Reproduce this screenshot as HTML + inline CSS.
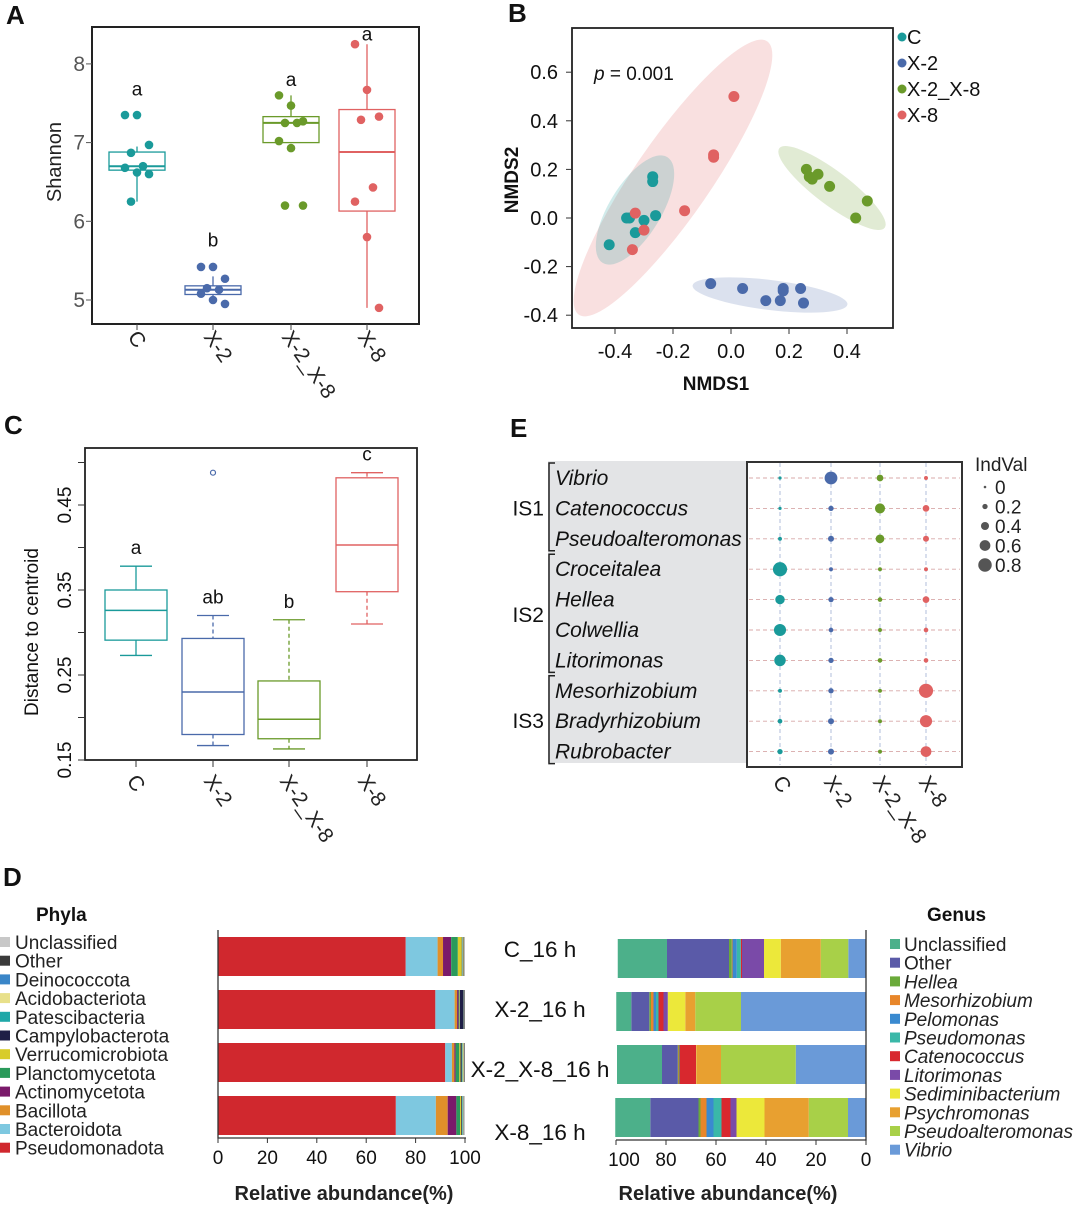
<!DOCTYPE html>
<html><head><meta charset="utf-8">
<style>
html,body{margin:0;padding:0;background:#fff;}
svg{display:block;font-family:"Liberation Sans",Arial,sans-serif;}
</style></head>
<body>
<svg id="fig" width="1080" height="1206" viewBox="0 0 1080 1206" xmlns="http://www.w3.org/2000/svg">
<g font-weight="bold" font-size="26" fill="#111">
<text x="6" y="24">A</text>
<text x="508" y="22">B</text>
<text x="4" y="434">C</text>
<text x="510" y="437">E</text>
<text x="3" y="886">D</text>
</g>
<g id="pA"></g>
<g id="pB"></g>
<g id="pC"></g>
<g id="pE"></g>
<g id="pD"></g>
</svg>
<script>
// ---------- shared data ----------
const groups = ["C","X-2","X-2_X-8","X-8"];
const groupColors = ["#1a9a9a","#4a6aaa","#6a9a2a","#e06262"];

// Panel A (Shannon)
const aQ1 = [6.65,5.07,7.0,6.13];
const aMed = [6.7,5.13,7.25,6.88];
const aQ3 = [6.88,5.18,7.33,7.42];
const aLo = [6.25,4.98,7.0,4.9];
const aHi = [6.95,5.3,7.6,8.25];
const aPoints = [
 [7.35,7.35,6.97,6.87,6.7,6.68,6.62,6.6,6.25],
 [5.42,5.42,5.27,5.15,5.13,5.08,5.0,4.95],
 [7.6,7.47,7.27,7.25,7.25,7.02,6.93,6.2,6.2],
 [8.25,7.67,7.33,7.29,6.43,6.25,5.8,4.9]];
const aLetters = ["a","b","a","a"];
const aLetterVals = [7.6,5.68,7.72,8.3];
const aTicks = [5,6,7,8];

// Panel B (NMDS)
const bX = [
 [-0.27,-0.27,-0.35,-0.36,-0.3,-0.26,-0.33,-0.42],
 [-0.07,0.04,0.12,0.17,0.18,0.18,0.24,0.25],
 [0.26,0.27,0.28,0.3,0.34,0.47,0.43],
 [0.01,-0.06,-0.06,-0.16,-0.33,-0.3,-0.34]];
const bY = [
 [0.17,0.15,0.0,0.0,-0.01,0.01,-0.06,-0.11],
 [-0.27,-0.29,-0.34,-0.34,-0.3,-0.29,-0.29,-0.35],
 [0.2,0.17,0.16,0.18,0.13,0.07,0.0],
 [0.5,0.26,0.25,0.03,0.02,-0.05,-0.13]];
const bXTicks = [-0.4,-0.2,0.0,0.2,0.4];
const bYTicks = [-0.4,-0.2,0.0,0.2,0.4,0.6];

// Panel C (distance to centroid)
const cQ1 = [0.291,0.18,0.175,0.348];
const cMed = [0.326,0.23,0.198,0.403];
const cQ3 = [0.35,0.293,0.243,0.482];
const cLo = [0.273,0.167,0.163,0.31];
const cHi = [0.378,0.32,0.315,0.488];
const cOutliers = [null,0.488,null,null];
const cLetters = ["a","ab","b","c"];
const cTicks = [0.15,0.2,0.25,0.3,0.35,0.4,0.45,0.5];
const cTickLabels = ["0.15","","0.25","","0.35","","0.45",""];

// Panel E (IndVal)
const eTaxa = ["Vibrio","Catenococcus","Pseudoalteromonas","Croceitalea","Hellea","Colwellia","Litorimonas","Mesorhizobium","Bradyrhizobium","Rubrobacter"];
const eVals = [
 [0.05,0.75,0.3,0.1],[0.05,0.2,0.55,0.3],[0.1,0.25,0.45,0.25],
 [0.85,0.1,0.1,0.1],[0.5,0.2,0.15,0.3],[0.7,0.15,0.1,0.15],[0.65,0.2,0.15,0.15],
 [0.1,0.2,0.1,0.85],[0.15,0.25,0.1,0.7],[0.2,0.25,0.1,0.6]];
const eLegendVals = [0,0.2,0.4,0.6,0.8];

// Panel D
const samples = ["C_16 h","X-2_16 h","X-2_X-8_16 h","X-8_16 h"];
const phyla = ["Unclassified","Other","Deinococcota","Acidobacteriota","Patescibacteria","Campylobacterota","Verrucomicrobiota","Planctomycetota","Actinomycetota","Bacillota","Bacteroidota","Pseudomonadota"];
const phylaColors = ["#c8c8c8","#3a3a3a","#3a86c8","#e8e08a","#1fa8a8","#1e1e46","#d8cc2a","#2a9a5a","#7a1a6a","#e0902a","#7ec8e0","#d0282e"];
const phylaC = [0.3,0.3,0.0,0.3,0.2,0.2,1.6,2.7,3.3,2.2,12.9,76];
const phylaX2 = [0.2,0.2,0.0,0.1,0.1,1.5,0.2,0.3,0.6,1.0,7.8,88];
const phylaX2X8 = [0.2,0.3,0.0,0.5,0.3,0.5,0.5,1.5,0.5,1.0,2.7,92];
const phylaX8 = [0.5,0.2,0.0,0.2,0.3,0.3,0.5,1.5,3.5,4.8,16.2,72];
const genera = ["Unclassified","Other","Hellea","Mesorhizobium","Pelomonas","Pseudomonas","Catenococcus","Litorimonas","Sediminibacterium","Psychromonas","Pseudoalteromonas","Vibrio"];
const genusColors = ["#4cb08a","#5a5aa8","#6aaa3a","#e8862a","#3a8ad0","#3ab8a8","#d8282e","#7a4aa8","#ece83a","#e8a030","#a8d048","#6a9ad8"];
const genusC = [19.7,24.8,1.1,0.3,1.7,1.6,0.5,8.8,6.7,16,11,7.1];
const genusX2 = [6,7.2,0.7,1,1,1,2,1.7,7,4,18.3,50];
const genusX2X8 = [18,6.3,0.3,0.2,0,0.2,6.7,0,0.3,9.6,29.9,28.1];
const genusX8 = [14,19.3,0.8,2.4,2.8,3.2,3.6,2.4,11.2,17.7,15.7,7.2];
const dTicks = [0,20,40,60,80,100];

// ---------- helpers ----------
const NS="http://www.w3.org/2000/svg";
function mk(parent,tag,attrs,txt){const e=document.createElementNS(NS,tag);for(const k in attrs)e.setAttribute(k,attrs[k]);if(txt!==undefined)e.textContent=txt;parent.appendChild(e);return e;}
const italicSet = new Set(["Hellea","Mesorhizobium","Pelomonas","Pseudomonas","Catenococcus","Litorimonas","Sediminibacterium","Psychromonas","Pseudoalteromonas","Vibrio"]);

// ---------- Panel A ----------
(function(){
 const g=document.getElementById('pA');
 const xs=[137,213,291,367];
 const y=v=>300-(v-5)*78.7;
 let e=mk(g,'rect',{x:92,y:27,width:327,height:297,fill:'none',stroke:'#222','stroke-width':2});
 
 aTicks.forEach(t=>{
  e=mk(g,'line',{x1:86,x2:92,y1:y(t),y2:y(t),stroke:'#555'});
  
  e=mk(g,'text',{x:85,y:y(t)+7,'text-anchor':'end','font-size':21,fill:'#555'},String(t));
  
 });
 e=mk(g,'text',{x:0,y:0,transform:'translate(61,162) rotate(-90)','text-anchor':'middle','font-size':20,fill:'#222'},'Shannon');
 
 groups.forEach((gr,i)=>{
  const c=groupColors[i],x=xs[i],w=56;
  e=mk(g,'line',{x1:x,x2:x,y1:y(aHi[i]),y2:y(aLo[i]),stroke:c,'stroke-width':1.3});
  
  e=mk(g,'rect',{x:x-w/2,y:y(aQ3[i]),width:w,height:y(aQ1[i])-y(aQ3[i]),fill:'#fff',stroke:c,'stroke-width':1.3});
  
  e=mk(g,'line',{x1:x-w/2,x2:x+w/2,y1:y(aMed[i]),y2:y(aMed[i]),stroke:c,'stroke-width':2});
  
  aPoints[i].forEach((v,j)=>{
   const off=((j*7)%5-2)*6;
   e=mk(g,'circle',{cx:x+off,cy:y(v),r:4.3,fill:c});
   
  });
  e=mk(g,'text',{x:x,y:y(aLetterVals[i]),'text-anchor':'middle','font-size':19,fill:'#111'},aLetters[i]);
  
  e=mk(g,'line',{x1:x,x2:x,y1:324,y2:330,stroke:'#444'});
  
  e=mk(g,'text',{x:0,y:0,transform:`translate(${x-10},337) rotate(55)`,'font-size':21,fill:'#222'},gr);
  
 });
})();

// ---------- Panel B ----------
(function(){
 const g=document.getElementById('pB');
 const x=v=>731+290*v, y=v=>218-243*v;
 const ell=[[673,178,166,38,-55.4,3],[635,210,62,26,-58.6,0],[832,188,66,17,37,2],[770,295,78,15,7,1]];
 ell.forEach(a=>{
  const e=mk(g,'ellipse',{cx:a[0],cy:a[1],rx:a[2],ry:a[3],transform:`rotate(${a[4]} ${a[0]} ${a[1]})`,fill:groupColors[a[5]],'fill-opacity':0.2});
  
 });
 let e=mk(g,'rect',{x:572,y:28,width:321,height:300,fill:'none',stroke:'#222','stroke-width':1.8});
 
 bXTicks.forEach(t=>{
  e=mk(g,'line',{x1:x(t),x2:x(t),y1:328,y2:334,stroke:'#333'});
  
  e=mk(g,'text',{x:x(t),y:358,'text-anchor':'middle','font-size':20,fill:'#111'},t.toFixed(1));
  
 });
 bYTicks.forEach(t=>{
  e=mk(g,'line',{x1:566,x2:572,y1:y(t),y2:y(t),stroke:'#333'});
  
  e=mk(g,'text',{x:558,y:y(t)+7,'text-anchor':'end','font-size':20,fill:'#111'},t.toFixed(1));
  
 });
 e=mk(g,'text',{x:716,y:390,'text-anchor':'middle','font-size':19,'font-weight':'bold',fill:'#111'},'NMDS1');
 
 e=mk(g,'text',{x:0,y:0,transform:'translate(518,180) rotate(-90)','text-anchor':'middle','font-size':19,'font-weight':'bold',fill:'#111'},'NMDS2');
 
 e=mk(g,'text',{x:594,y:80,'font-size':19,fill:'#111'});
 
 mk(e,'tspan',{'font-style':'italic'},'p');mk(e,'tspan',{},' = 0.001');
 groups.forEach((gr,i)=>{
  bX[i].forEach((v,j)=>{
   e=mk(g,'circle',{cx:x(v),cy:y(bY[i][j]),r:5.5,fill:groupColors[i]});
   
  });
  const ly=37+i*26;
  e=mk(g,'circle',{cx:902,cy:ly,r:4.5,fill:groupColors[i]});
  
  e=mk(g,'text',{x:907,y:ly+7,'font-size':20,fill:'#111'},gr);
  
 });
})();

// ---------- Panel C ----------
(function(){
 const g=document.getElementById('pC');
 const xs=[136,213,289,367];
 const y=v=>760-(v-0.15)*850;
 let e=mk(g,'rect',{x:85,y:448,width:332,height:312,fill:'none',stroke:'#222','stroke-width':1.8});
 
 cTicks.forEach((t,k)=>{
  e=mk(g,'line',{x1:78,x2:85,y1:y(t),y2:y(t),stroke:'#333'});
  
  if(cTickLabels[k]){
   e=mk(g,'text',{x:0,y:0,transform:`translate(71,${y(t)}) rotate(-90)`,'text-anchor':'middle','font-size':19,fill:'#111'},cTickLabels[k]);
   
  }
 });
 e=mk(g,'text',{x:0,y:0,transform:'translate(38,632) rotate(-90)','text-anchor':'middle','font-size':19,fill:'#111'},'Distance to centroid');
 
 groups.forEach((gr,i)=>{
  const c=groupColors[i],x=xs[i],w=62,dash=i===0?'none':'4,3';
  e=mk(g,'line',{x1:x,x2:x,y1:y(cHi[i]),y2:y(cQ3[i]),stroke:c,'stroke-width':1.3,'stroke-dasharray':dash});
  
  e=mk(g,'line',{x1:x,x2:x,y1:y(cQ1[i]),y2:y(cLo[i]),stroke:c,'stroke-width':1.3,'stroke-dasharray':dash});
  
  [cHi[i],cLo[i]].forEach(v=>{
   e=mk(g,'line',{x1:x-16,x2:x+16,y1:y(v),y2:y(v),stroke:c,'stroke-width':1.3});
   
  });
  e=mk(g,'rect',{x:x-w/2,y:y(cQ3[i]),width:w,height:y(cQ1[i])-y(cQ3[i]),fill:'none',stroke:c,'stroke-width':1.3});
  
  e=mk(g,'line',{x1:x-w/2,x2:x+w/2,y1:y(cMed[i]),y2:y(cMed[i]),stroke:c,'stroke-width':1.5});
  
  if(cOutliers[i]!==null){
   e=mk(g,'circle',{cx:x,cy:y(cOutliers[i]),r:2.5,fill:'none',stroke:c,'stroke-width':1.2});
   
  }
  e=mk(g,'text',{x:x,y:y(Math.max(cHi[i],cQ3[i]))-12,'text-anchor':'middle','font-size':19,fill:'#111'},cLetters[i]);
  
  e=mk(g,'line',{x1:x,x2:x,y1:760,y2:767,stroke:'#333'});
  
  e=mk(g,'text',{x:0,y:0,transform:`translate(${x-10},781) rotate(55)`,'font-size':21,fill:'#222'},gr);
  
 });
})();

// ---------- Panel E ----------
(function(){
 const g=document.getElementById('pE');
 const cx=[780,831,880,926];
 const rowY=i=>478+i*30.4;
 const r=v=>1.3+6.8*v;
 let e=mk(g,'rect',{x:548,y:461,width:199,height:302,fill:'#e3e4e6'});
 
 eTaxa.forEach((t,i)=>{
  e=mk(g,'line',{x1:749,x2:960,y1:rowY(i),y2:rowY(i),stroke:'#d8a8a8','stroke-dasharray':'4,3','stroke-width':0.9});
  
  e=mk(g,'text',{x:555,y:rowY(i)+7,'font-size':21,'font-style':'italic',fill:'#111'},t);
  
 });
 cx.forEach((x,j)=>{
  e=mk(g,'line',{x1:x,x2:x,y1:463,y2:765,stroke:'#a8b8d8','stroke-dasharray':'4,3','stroke-width':0.9});
  
  e=mk(g,'text',{x:0,y:0,transform:`translate(${x-8},782) rotate(55)`,'font-size':21,fill:'#222'},groups[j]);
  
 });
 e=mk(g,'rect',{x:747,y:462,width:215,height:305,fill:'none',stroke:'#333','stroke-width':2});
 
 eVals.forEach((row,i)=>row.forEach((v,j)=>{
  e=mk(g,'circle',{cx:cx[j],cy:rowY(i),r:r(v),fill:groupColors[j]});
  
 }));
 [["IS1",0,2],["IS2",3,6],["IS3",7,9]].forEach(b=>{
  const y1=rowY(b[1])-15,y2=rowY(b[2])+12;
  e=mk(g,'path',{d:`M555 ${y1} H549 V${y2} H555`,fill:'none',stroke:'#222','stroke-width':1.5});
  
  e=mk(g,'text',{x:544,y:(rowY(b[1])+rowY(b[2]))/2+7,'text-anchor':'end','font-size':21,fill:'#111'},b[0]);
  
 });
 e=mk(g,'text',{x:975,y:471,'font-size':19,fill:'#222'},'IndVal');
 
 eLegendVals.forEach((v,k)=>{
  const ly=487+k*19.5;
  e=mk(g,'circle',{cx:985,cy:ly,r:r(v),fill:'#555'});
  
  e=mk(g,'text',{x:995,y:ly+7,'font-size':19,fill:'#222'},String(v));
  
 });
})();

// ---------- Panel D ----------
(function(){
 const g=document.getElementById('pD');
 const tops=[937,990,1043,1096], h=39;
 const labelBase=[957,1017,1077,1140];
 const px=v=>218+2.47*v;
 const gx=v=>866-2.5*v;
 const phylaData=[phylaC,phylaX2,phylaX2X8,phylaX8];
 const genusData=[genusC,genusX2,genusX2X8,genusX8];
 let e;
 e=mk(g,'text',{x:36,y:921,'font-size':19,'font-weight':'bold',fill:'#111'},'Phyla');
 
 e=mk(g,'text',{x:927,y:921,'font-size':19,'font-weight':'bold',fill:'#111'},'Genus');
 
 phyla.forEach((p,k)=>{
  const ly=942+k*18.7;
  e=mk(g,'rect',{x:0,y:ly-5,width:10,height:10,fill:phylaColors[k]});
  
  e=mk(g,'text',{x:15,y:ly+7,'font-size':19,fill:'#222'},p);
  
 });
 genera.forEach((p,k)=>{
  const ly=944+k*18.7;
  e=mk(g,'rect',{x:890,y:ly-5,width:10,height:10,fill:genusColors[k]});
  
  e=mk(g,'text',{x:904,y:ly+7,'font-size':19,fill:'#222','font-style':italicSet.has(p)?'italic':'normal'},p);
  
 });
 samples.forEach((s,i)=>{
  let acc=0;
  for(let k=phyla.length-1;k>=0;k--){
   const v=phylaData[i][k];
   e=mk(g,'rect',{x:px(acc),y:tops[i],width:Math.max(0,px(acc+v)-px(acc)),height:h,fill:phylaColors[k]});
   
   acc+=v;
  }
  acc=0;
  for(let k=genera.length-1;k>=0;k--){
   const v=genusData[i][k];
   e=mk(g,'rect',{x:gx(acc+v),y:tops[i]+2,width:Math.max(0,gx(acc)-gx(acc+v)),height:h,fill:genusColors[k]});
   
   acc+=v;
  }
  e=mk(g,'text',{x:540,y:labelBase[i],'text-anchor':'middle','font-size':22.5,fill:'#111'},s);
  
 });
 e=mk(g,'path',{d:'M218 930 V1138 H466',fill:'none',stroke:'#333','stroke-width':1.3});
 
 e=mk(g,'path',{d:'M866 930 V1140 H616',fill:'none',stroke:'#333','stroke-width':1.3});
 
 dTicks.forEach(t=>{
  e=mk(g,'line',{x1:px(t),x2:px(t),y1:1138,y2:1143,stroke:'#333'});
  
  e=mk(g,'text',{x:px(t),y:1164,'text-anchor':'middle','font-size':19,fill:'#111'},String(t));
  
  e=mk(g,'line',{x1:gx(t),x2:gx(t),y1:1140,y2:1145,stroke:'#333'});
  
  e=mk(g,'text',{x:gx(t)+(t===100?8:0),y:1166,'text-anchor':'middle','font-size':19,fill:'#111'},String(t));
  
 });
 e=mk(g,'text',{x:344,y:1200,'text-anchor':'middle','font-size':20,'font-weight':'bold',fill:'#222'},'Relative abundance(%)');
 
 e=mk(g,'text',{x:728,y:1200,'text-anchor':'middle','font-size':20,'font-weight':'bold',fill:'#222'},'Relative abundance(%)');
 
})();
</script>
</body></html>
